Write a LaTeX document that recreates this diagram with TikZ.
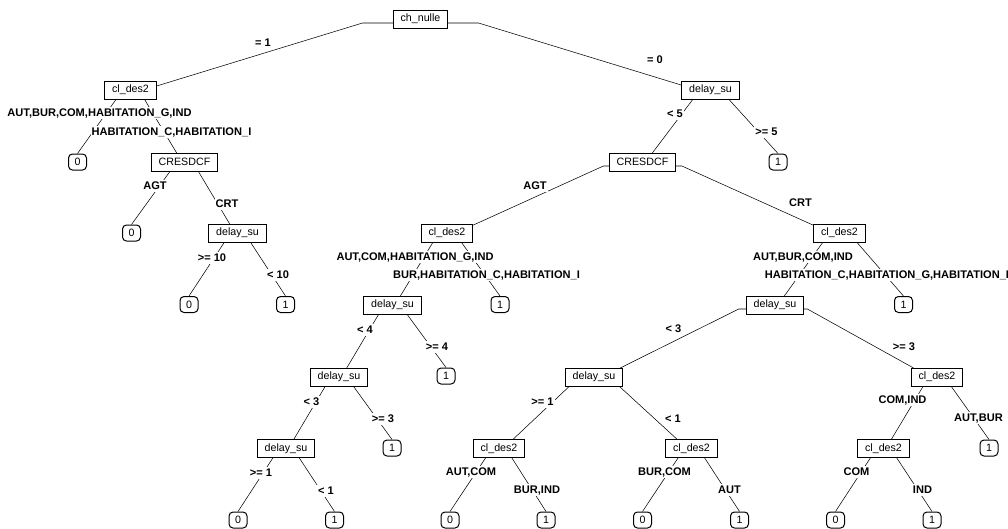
\documentclass[tikz,border=0pt]{standalone}
\usepackage{fontspec}
\setmainfont{Liberation Sans}
\usetikzlibrary{calc}
\pgfdeclarelayer{wires}
\pgfsetlayers{wires,main}

\tikzset{every picture/.style={line width=0.75pt}}
\tikzset{
  split/.style={draw, fill=white, inner xsep=5.5pt, inner ysep=0pt, minimum height=13.5pt, font=\fontsize{8}{9.6}\selectfont},
  leafbox/.style={draw, fill=white, rounded corners=3pt, inner sep=0pt, minimum width=13.5pt, minimum height=12pt, font=\fontsize{8}{9.6}\selectfont},
  cond/.style={fill=white, inner sep=0.8pt, text height=5.9pt, text depth=1.2pt, font=\bfseries\fontsize{8.3}{9.9}\selectfont}
}
% branch to a split node / to a leaf
\newcommand{\branch}[2]{\draw let \p1=($(#1)+(0,4)$), \p2=($(#2)+(0,4)$) in (\p1) -- ({\x1+0.2*(\x2-\x1)},\y1) -- (\p2);}
\newcommand{\twig}[2]{\draw let \p1=($(#1)+(0,4)$), \p2=(#2.north) in (\p1) -- ({\x1+0.2*(\x2-\x1)},\y1) -- (\p2);}

\begin{document}
\begin{tikzpicture}[x=0.75pt,y=0.75pt,yscale=-1,xscale=1]
\useasboundingbox (0,0) rectangle (1008,529);

% Split nodes
\node[split] (n1) at (420.5,19) {ch\_nulle};
\node[split] (n2) at (130.5,90) {cl\_des2};
\node[split] (n3) at (710.5,90) {delay\_su};
\node[split] (n5) at (184.5,162) {CRESDCF};
\node[split] (n6) at (642.5,162) {CRESDCF};
\node[split] (n11) at (237.5,233) {delay\_su};
\node[split] (n12) at (447,233) {cl\_des2};
\node[split] (n13) at (839.5,233) {cl\_des2};
\node[split] (n24) at (392.5,305) {delay\_su};
\node[split] (n26) at (775,305) {delay\_su};
\node[split] (n48) at (339,377) {delay\_su};
\node[split] (n52) at (594,377) {delay\_su};
\node[split] (n53) at (937,377) {cl\_des2};
\node[split] (n96) at (286,448.5) {delay\_su};
\node[split] (n104) at (499,448.5) {cl\_des2};
\node[split] (n105) at (691.5,448.5) {cl\_des2};
\node[split] (n106) at (883.5,448.5) {cl\_des2};

% Leaf nodes
\node[leafbox] (n4) at (77.5,162) {0};
\node[leafbox] (n7) at (778,162) {1};
\node[leafbox] (n10) at (131.5,233) {0};
\node[leafbox] (n22) at (189,304.5) {0};
\node[leafbox] (n23) at (285.5,304.5) {1};
\node[leafbox] (n25) at (500,304.5) {1};
\node[leafbox] (n27) at (903.5,304.5) {1};
\node[leafbox] (n49) at (446,376) {1};
\node[leafbox] (n97) at (392,448) {1};
\node[leafbox] (n107) at (989,448) {1};
\node[leafbox] (n192) at (238,520) {0};
\node[leafbox] (n193) at (334.5,520) {1};
\node[leafbox] (n208) at (450,520) {0};
\node[leafbox] (n209) at (546,520) {1};
\node[leafbox] (n210) at (642.5,520) {0};
\node[leafbox] (n211) at (739.5,520) {1};
\node[leafbox] (n212) at (835.5,520) {0};
\node[leafbox] (n213) at (932,520) {1};

% Branches
\begin{pgfonlayer}{wires}
\branch{n1}{n2} \branch{n1}{n3}
\twig{n2}{n4} \branch{n2}{n5}
\branch{n3}{n6} \twig{n3}{n7}
\twig{n5}{n10} \branch{n5}{n11}
\twig{n11}{n22} \twig{n11}{n23}
\branch{n6}{n12} \branch{n6}{n13}
\branch{n12}{n24} \twig{n12}{n25}
\branch{n24}{n48} \twig{n24}{n49}
\branch{n48}{n96} \twig{n48}{n97}
\twig{n96}{n192} \twig{n96}{n193}
\branch{n13}{n26} \twig{n13}{n27}
\branch{n26}{n52} \branch{n26}{n53}
\branch{n52}{n104} \branch{n52}{n105}
\twig{n104}{n208} \twig{n104}{n209}
\twig{n105}{n210} \twig{n105}{n211}
\branch{n53}{n106} \twig{n53}{n107}
\twig{n106}{n212} \twig{n106}{n213}
\end{pgfonlayer}

% Split conditions
\node[cond] (c2) at (263,43) {= 1};
\node[cond] (c3) at (655,60) {= 0};
\node[cond] (c4) at (99.5,113) {AUT,BUR,COM,HABITATION\_G,IND};
\node[cond] (c5) at (171.5,132) {HABITATION\_C,HABITATION\_I};
\node[cond] (c6) at (675,114) {< 5};
\node[cond] (c7) at (766.5,132) {>= 5};
\node[cond] (c10) at (155,186) {AGT};
\node[cond] (c11) at (227,204) {CRT};
\node[cond] (c12) at (535,186) {AGT};
\node[cond] (c13) at (800.5,203) {CRT};
\node[cond] (c22) at (212,258) {>= 10};
\node[cond] (c23) at (278,275) {< 10};
\node[cond] (c24) at (415,257) {AUT,COM,HABITATION\_G,IND};
\node[cond] (c25) at (486.5,275) {BUR,HABITATION\_C,HABITATION\_I};
\node[cond] (c26) at (803,257) {AUT,BUR,COM,IND};
\node[cond] (c27) at (887,275) {HABITATION\_C,HABITATION\_G,HABITATION\_I};
\node[cond] (c48) at (365,330) {< 4};
\node[cond] (c49) at (437,347) {>= 4};
\node[cond] (c52) at (673.5,329) {< 3};
\node[cond] (c53) at (904,347) {>= 3};
\node[cond] (c96) at (311.5,402) {< 3};
\node[cond] (c97) at (383,419) {>= 3};
\node[cond] (c104) at (542.5,402) {>= 1};
\node[cond] (c105) at (673,419) {< 1};
\node[cond] (c106) at (902.5,400) {COM,IND};
\node[cond] (c107) at (978.5,418) {AUT,BUR};
\node[cond] (c192) at (261,473) {>= 1};
\node[cond] (c193) at (326,491) {< 1};
\node[cond] (c208) at (471,472) {AUT,COM};
\node[cond] (c209) at (537,490) {BUR,IND};
\node[cond] (c210) at (664.5,472) {BUR,COM};
\node[cond] (c211) at (729.5,490) {AUT};
\node[cond] (c212) at (856.5,472) {COM};
\node[cond] (c213) at (922.5,490) {IND};

\end{tikzpicture}
\end{document}
